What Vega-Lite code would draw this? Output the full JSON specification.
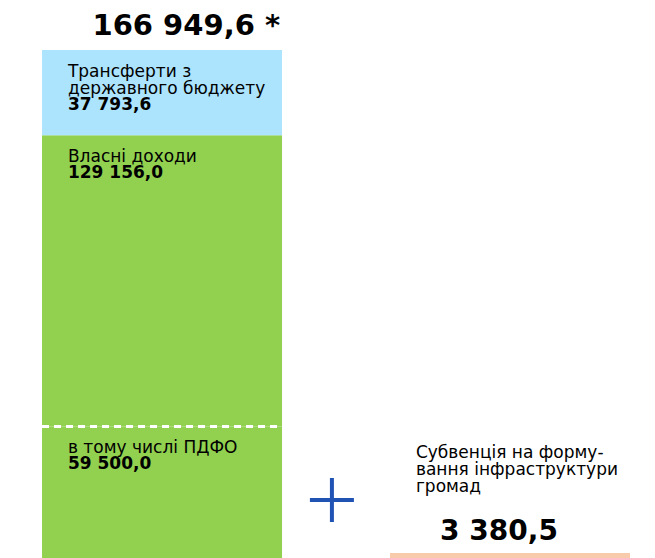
{
  "$schema": "https://vega.github.io/schema/vega-lite/v6.json",
  "width": 655,
  "height": 508,
  "autosize": {"type": "none"},
  "padding": {"top": 50, "left": 0, "right": 0, "bottom": 0},
  "background": "white",
  "config": {"view": {"stroke": null}, "font": "DejaVu Sans", "text": {"font": "DejaVu Sans", "color": "black"}},
  "data": {
    "values": [
      {"bar": "total", "part": "ПДФО", "rank": 1, "value": 59500, "label": ["в тому числі ПДФО"], "amount": "59 500,0"},
      {"bar": "total", "part": "Власні доходи", "rank": 2, "value": 129156, "label": ["Власні доходи"], "amount": "129 156,0"},
      {"bar": "total", "part": "Трансферти з державного бюджету", "rank": 3, "value": 37793.6, "label": ["Трансферти з", "державного бюджету"], "amount": "37 793,6", "totalText": "166 949,6 *"},
      {"bar": "subvention", "part": "Субвенція на формування інфраструктури громад", "rank": 1, "value": 3380.5, "label": ["Субвенція на форму-", "вання інфраструктури", "громад"], "totalText": "3 380,5"}
    ]
  },
  "transform": [
    {"stack": "value", "groupby": ["bar"], "sort": [{"field": "rank", "order": "ascending"}], "as": ["y0", "y1"]}
  ],
  "encoding": {
    "x": {"field": "bar", "type": "nominal", "sort": ["total", "subvention"], "scale": {"paddingInner": 0.3103, "paddingOuter": 0.0963, "align": 0.627}, "axis": null},
    "y": {"field": "y1", "type": "quantitative", "scale": {"domain": [1150, 226449.6], "nice": false, "zero": false}, "axis": null}
  },
  "layer": [
    {
      "mark": {"type": "bar", "clip": true},
      "encoding": {
        "y2": {"field": "y0"},
        "color": {"field": "part", "type": "nominal", "legend": null,
          "scale": {"domain": ["ПДФО", "Власні доходи", "Трансферти з державного бюджету", "Субвенція на формування інфраструктури громад"],
                    "range": ["#92D050", "#92D050", "#ADE4FD", "#F8CBAD"]}}
      }
    },
    {
      "transform": [{"filter": "datum.part == 'ПДФО'"}],
      "mark": {"type": "rule", "color": "white", "strokeWidth": 3, "strokeDash": [7, 5]},
      "encoding": {
        "x": {"field": "bar", "type": "nominal", "bandPosition": 0},
        "x2": {"field": "bar", "bandPosition": 1}
      }
    },
    {
      "transform": [{"filter": "datum.bar == 'total'"}],
      "mark": {"type": "text", "align": "left", "baseline": "alphabetic", "dy": 26.5, "lineHeight": 17, "fontSize": 17},
      "encoding": {
        "x": {"field": "bar", "type": "nominal", "bandPosition": 0.108},
        "text": {"field": "label"}
      }
    },
    {
      "transform": [{"filter": "datum.bar == 'total' && datum.rank < 3"}],
      "mark": {"type": "text", "align": "left", "baseline": "alphabetic", "dy": 42.5, "fontSize": 17, "fontWeight": "bold"},
      "encoding": {
        "x": {"field": "bar", "type": "nominal", "bandPosition": 0.108},
        "text": {"field": "amount"}
      }
    },
    {
      "transform": [{"filter": "datum.bar == 'total' && datum.rank == 3"}],
      "mark": {"type": "text", "align": "left", "baseline": "alphabetic", "dy": 60, "fontSize": 17, "fontWeight": "bold"},
      "encoding": {
        "x": {"field": "bar", "type": "nominal", "bandPosition": 0.108},
        "text": {"field": "amount"}
      }
    },
    {
      "transform": [{"filter": "datum.bar == 'subvention'"}],
      "mark": {"type": "text", "align": "left", "baseline": "alphabetic", "dy": -95, "lineHeight": 17, "fontSize": 17},
      "encoding": {
        "x": {"field": "bar", "type": "nominal", "bandPosition": 0.108},
        "text": {"field": "label"}
      }
    },
    {
      "transform": [{"filter": "datum.bar == 'total' && datum.rank == 3"}],
      "mark": {"type": "text", "align": "right", "baseline": "alphabetic", "dy": -15, "fontSize": 29, "fontWeight": "bold"},
      "encoding": {
        "x": {"field": "bar", "type": "nominal", "bandPosition": 0.992},
        "text": {"field": "totalText"}
      }
    },
    {
      "transform": [{"filter": "datum.bar == 'subvention'"}],
      "mark": {"type": "text", "align": "center", "baseline": "alphabetic", "dy": -13, "fontSize": 28, "fontWeight": "bold"},
      "encoding": {
        "x": {"field": "bar", "type": "nominal", "bandPosition": 0.454},
        "text": {"field": "totalText"}
      }
    },
    {
      "transform": [{"filter": "datum.bar == 'subvention'"}],
      "mark": {"type": "point", "shape": "M-1,0L1,0M0,-1L0,1", "size": 1936, "filled": false, "stroke": "#2153B5", "strokeWidth": 4, "opacity": 1},
      "encoding": {
        "x": {"field": "bar", "type": "nominal", "bandPosition": -0.242},
        "y": {"datum": 26870, "type": "quantitative"}
      }
    }
  ]
}
